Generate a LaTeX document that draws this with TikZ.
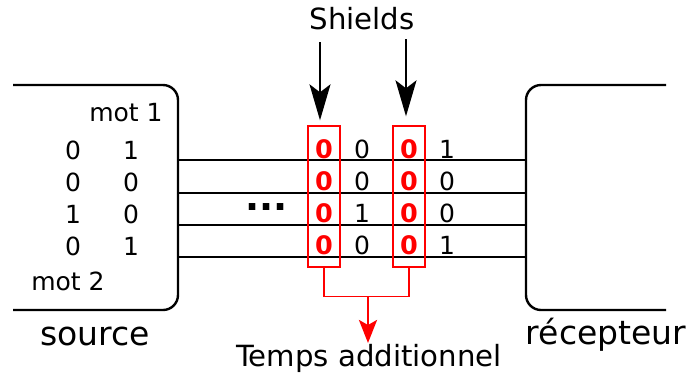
\documentclass[tikz,border=0pt]{standalone}
\usepackage{fontspec}
\setmainfont{DejaVu Sans}
\usetikzlibrary{arrows.meta, positioning}
\definecolor{shieldred}{HTML}{FF0000}

\begin{document}
\begin{tikzpicture}[
    x=1pt, y=-1pt,
    every node/.style={inner sep=0pt},
    boxline/.style={line width=2.4pt, rounded corners=15pt},
    wire/.style={line width=1.8pt},
    bit/.style={font=\fontsize{25}{28}\selectfont},
    shieldbit/.style={font=\fontsize{25.5}{28}\selectfont\bfseries, text=shieldred},
    shieldbox/.style={draw=shieldred, line width=1.4pt, minimum width=32pt, minimum height=141pt},
    biglabel/.style={font=\fontsize{33}{36}\selectfont, anchor=base},
    midlabel/.style={font=\fontsize{29.2}{32}\selectfont, anchor=base},
    shieldarrow/.style={-{Stealth[length=36pt, width=21pt, inset=8pt]}, line width=1.8pt},
    timearrow/.style={-{Stealth[length=23pt, width=18pt, inset=5pt]}, line width=2.8pt, shieldred}
]
\useasboundingbox (0,0) rectangle (694,376);

% source and receiver
\draw[boxline] (13,85) -- (178,85) -- (178,310) -- (13,310);
\draw[boxline] (666,85) -- (526,85) -- (526,310) -- (666,310);
\node[biglabel] (src) at (95,345) {source};
\node[biglabel] (rcv) at (606,344) {récepteur};

% wires
\foreach \y [count=\i] in {160,192.8,225,257.3} {
    \coordinate (in\i) at (178,\y);
    \coordinate (out\i) at (526,\y);
    \draw[wire] (in\i) -- (out\i);
}

% words in the source
\node[bit] (mot1) at (126,113) {mot 1};
\node[bit] (mot2) at (68,281) {mot 2};
\foreach \a/\b [count=\i] in {0/1,0/0,1/0,0/1} {
    \pgfmathsetmacro{\yy}{150+32.2*(\i-1)}
    \node[bit] (sa\i) at (73,\yy) {\a};
    \node[bit] (sb\i) at (131,\yy) {\b};
}

% bits on the wires
\node[font=\fontsize{37}{37}\selectfont\bfseries, anchor=base] (dots) at (266.5,210) {...};
\node[shieldbox] (sh1) at (324,196.5) {};
\node[shieldbox] (sh2) at (409,196.5) {};
\foreach \a/\b [count=\i] in {0/1,0/0,1/0,0/1} {
    \pgfmathsetmacro{\yy}{149.5+32*(\i-1)}
    \node[shieldbit] (za\i) at (324,\yy) {0};
    \node[bit] (ca\i) at (362,\yy) {\a};
    \node[shieldbit] (zb\i) at (409,\yy) {0};
    \node[bit] (cb\i) at (447,\yy) {\b};
}

% shields
\node[midlabel] (shields) at (362,29.3) {Shields};
\coordinate (a1) at (320,42);
\coordinate (a2) at (406,39);
\draw[shieldarrow] (a1) -- (a1 |- sh1.north) [shorten >=5pt];
\draw[shieldarrow] (a2) -- (a2 |- sh2.north) [shorten >=9pt];

% additional time
\node[midlabel] (temps) at (369,366) {Temps additionnel};
\draw[shieldred, line width=1.4pt] (sh1.south) -- ++(0,29) coordinate (b1) -| (sh2.south);
\coordinate (b2) at (368,296);
\draw[timearrow] (b2) -- (368,343);
\end{tikzpicture}
\end{document}
